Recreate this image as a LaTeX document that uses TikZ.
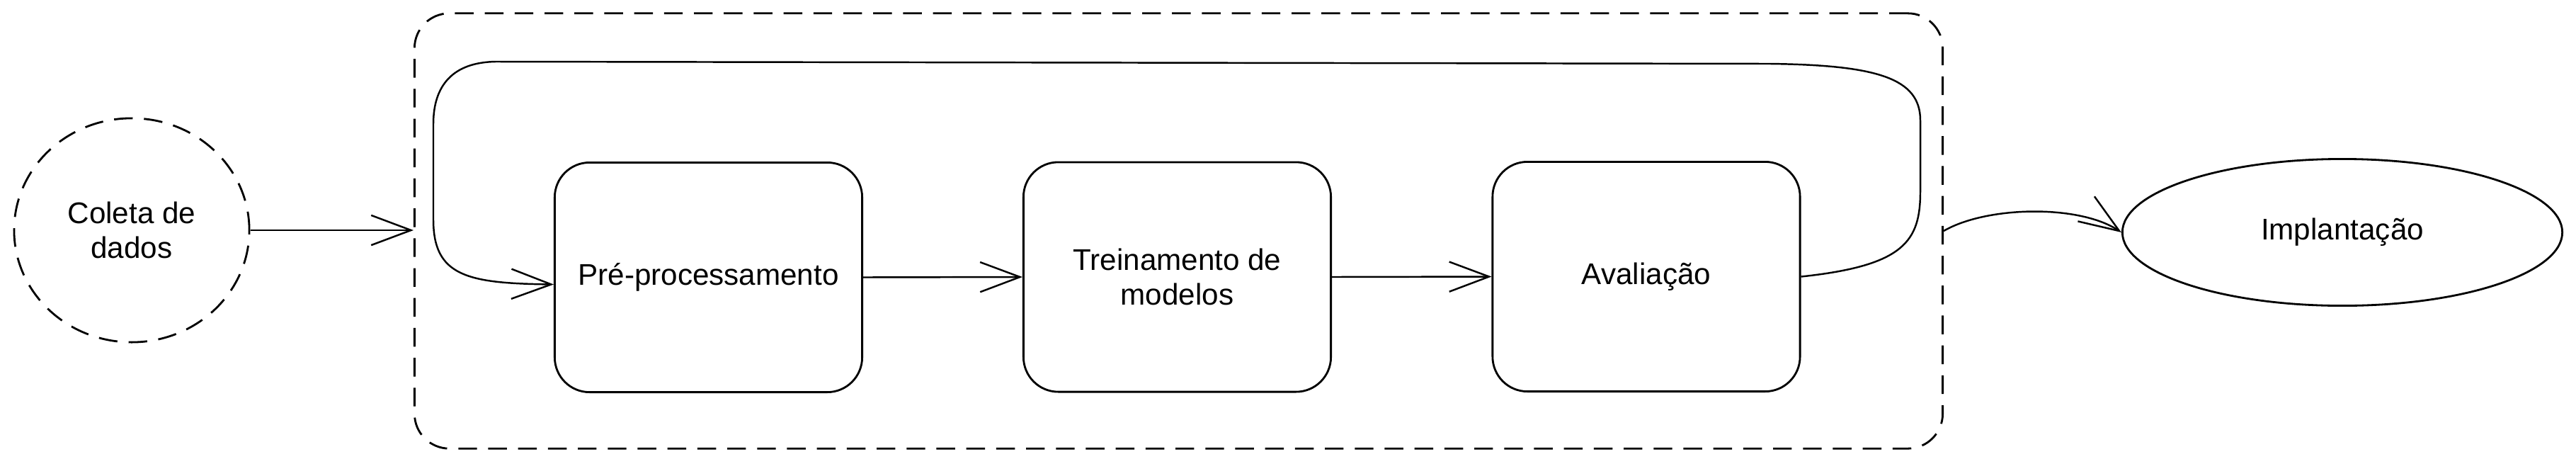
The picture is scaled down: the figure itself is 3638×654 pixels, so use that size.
\documentclass[tikz,border=0pt]{standalone}
\usepackage{fontspec}
\setmainfont{Liberation Sans}
\usetikzlibrary{arrows.meta,shapes.geometric,calc}
\begin{document}
\begin{tikzpicture}[x=0.01cm,y=-0.01cm,
  txt/.style={font=\fontsize{12pt}{14pt}\selectfont, align=center},
  stepbox/.style={txt, draw, line width=0.8pt, rounded corners=14pt, minimum width=4.34cm, minimum height=3.24cm},
  dashline/.style={line width=0.8pt, dash pattern=on 7.5pt off 4.5pt},
  conn/.style={line width=0.7pt, -{Straight Barb[length=16pt,width=12pt,line width=0.7pt]}}
]
\useasboundingbox (0,0) rectangle (3638,654);
% container
\node[draw, dashline, rounded corners=14pt, minimum width=21.57cm, minimum height=6.14cm] (cont) at (1664.5,326) {};
% nodes
\node[txt, draw, dashline, ellipse, minimum width=3.32cm, minimum height=3.16cm, inner sep=0pt] (coleta) at (186,325) {Coleta de\\dados};
\node[stepbox] (pre) at (1000.5,391.5) {Pré-processamento};
\node[stepbox] (train) at (1662.5,391) {Treinamento de\\modelos};
\node[stepbox] (aval) at (2325,390.5) {Avaliação};
\node[txt, draw, line width=0.8pt, ellipse, minimum width=6.21cm, minimum height=2.07cm, inner sep=0pt] (impl) at (3308,328) {Implantação};
% connectors
\draw[conn] (coleta.east) -- (coleta.east -| cont.west);
\draw[conn] (pre.east) -- (train.west);
\draw[conn] (train.east) -- (aval.west);
\draw[conn] (aval.east) .. controls (2690,375) and (2712,340) .. (2712,270)
  -- (2712,170) .. controls (2712,110) and (2650,92) .. (2500,90)
  -- (700,87) .. controls (640,88) and (612,120) .. (612,175)
  -- (612,310) .. controls (612,390) and (660,400) .. ($(pre.west)+(0,10)$);
\draw[conn] (cont.east) .. controls +(60,-35) and +(-60,-40) .. (impl.west);
\end{tikzpicture}
\end{document}
